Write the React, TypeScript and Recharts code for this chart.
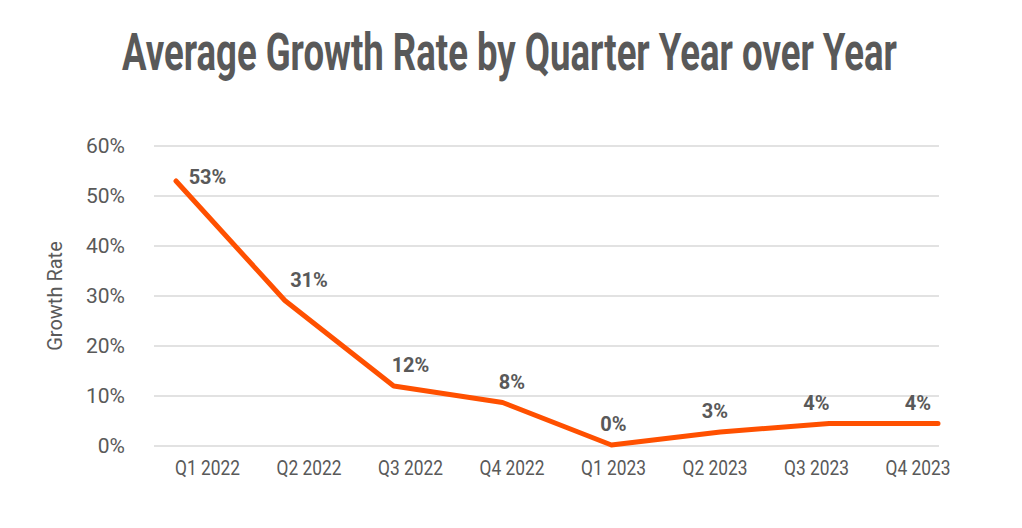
import React from 'react';
import { LineChart, Line, XAxis, YAxis, CartesianGrid, LabelList } from 'recharts';

const quarters = ['Q1 2022', 'Q2 2022', 'Q3 2022', 'Q4 2022', 'Q1 2023', 'Q2 2023', 'Q3 2023', 'Q4 2023'];
const growthRates = [53, 29.1, 12, 8.7, 0.2, 2.8, 4.5, 4.5];
const rateLabels = ['53%', '31%', '12%', '8%', '0%', '3%', '4%', '4%'];
const yTicks = [0, 10, 20, 30, 40, 50, 60];

const data = quarters.map((q, i) => ({ quarter: q, value: growthRates[i], label: rateLabels[i] }));

const GRAY = '#595959';
const FONT = 'Roboto, "Noto Sans", sans-serif';
const PLOT_TOP = 146;

const XTick = (props: any) => {
  const { x, y, payload } = props;
  return (
    <text
      x={x}
      y={y}
      dy="0.355em"
      textAnchor="middle"
      fill={GRAY}
      fontFamily={FONT}
      fontSize={20}
      textLength={65}
      lengthAdjust="spacingAndGlyphs"
    >
      {payload.value}
    </text>
  );
};

const YTick = (props: any) => {
  const { x, y, payload } = props;
  return (
    <text x={x} y={y} dy="0.355em" textAnchor="end" fill={GRAY} fontFamily={FONT} fontSize={21}>
      {`${payload.value}%`}
    </text>
  );
};

const DataLabel = (props: any) => {
  const { x, y, value } = props;
  const cy = Math.max(y - 21, PLOT_TOP + 31);
  return (
    <text x={x} y={cy} dy="0.355em" textAnchor="middle" fill={GRAY} fontFamily={FONT} fontSize={20} fontWeight={700}>
      {value}
    </text>
  );
};

export default function App() {
  return (
    <div style={{ position: 'absolute', left: 0, top: 0, width: 1022, height: 528, background: '#fff' }}>
      <svg width={1022} height={90} style={{ position: 'absolute', left: 0, top: 0 }}>
        <text
          x={122}
          y={70}
          textLength={775}
          lengthAdjust="spacingAndGlyphs"
          fill={GRAY}
          fontFamily={FONT}
          fontSize={51}
          fontWeight={700}
        >
          Average Growth Rate by Quarter Year over Year
        </text>
      </svg>
      <div style={{ position: 'absolute', left: 0, top: 0 }}>
        <LineChart width={1022} height={528} data={data} margin={{ top: PLOT_TOP, right: 83, bottom: 0, left: 0 }}>
          <CartesianGrid vertical={false} stroke="#D9D9D9" strokeWidth={1.5} xAxisId="line" />
          <XAxis xAxisId="line" dataKey="quarter" hide padding={{ left: 22, right: 1 }} />
          <XAxis
            xAxisId="lab"
            dataKey="quarter"
            axisLine={false}
            tickLine={false}
            tick={<XTick />}
            tickMargin={16}
            height={82}
            interval={0}
            padding={{ left: 53.5, right: 21 }}
          />
          <YAxis
            domain={[0, 60]}
            ticks={yTicks}
            width={154}
            axisLine={false}
            tickLine={false}
            tick={<YTick />}
            tickMargin={23}
            interval={0}
            label={{
              value: 'Growth Rate',
              angle: -90,
              position: 'insideLeft',
              offset: 55,
              style: { fill: GRAY, fontFamily: FONT, fontSize: 20, textAnchor: 'middle' },
            }}
          />
          <Line
            xAxisId="line"
            type="linear"
            dataKey="value"
            stroke="#FF5000"
            strokeWidth={5}
            strokeLinecap="round"
            strokeLinejoin="round"
            dot={false}
            activeDot={false}
            isAnimationActive={false}
          />
          <Line
            xAxisId="lab"
            type="linear"
            dataKey="value"
            stroke="none"
            dot={false}
            activeDot={false}
            isAnimationActive={false}
          >
            <LabelList dataKey="label" content={<DataLabel />} />
          </Line>
        </LineChart>
      </div>
    </div>
  );
}
